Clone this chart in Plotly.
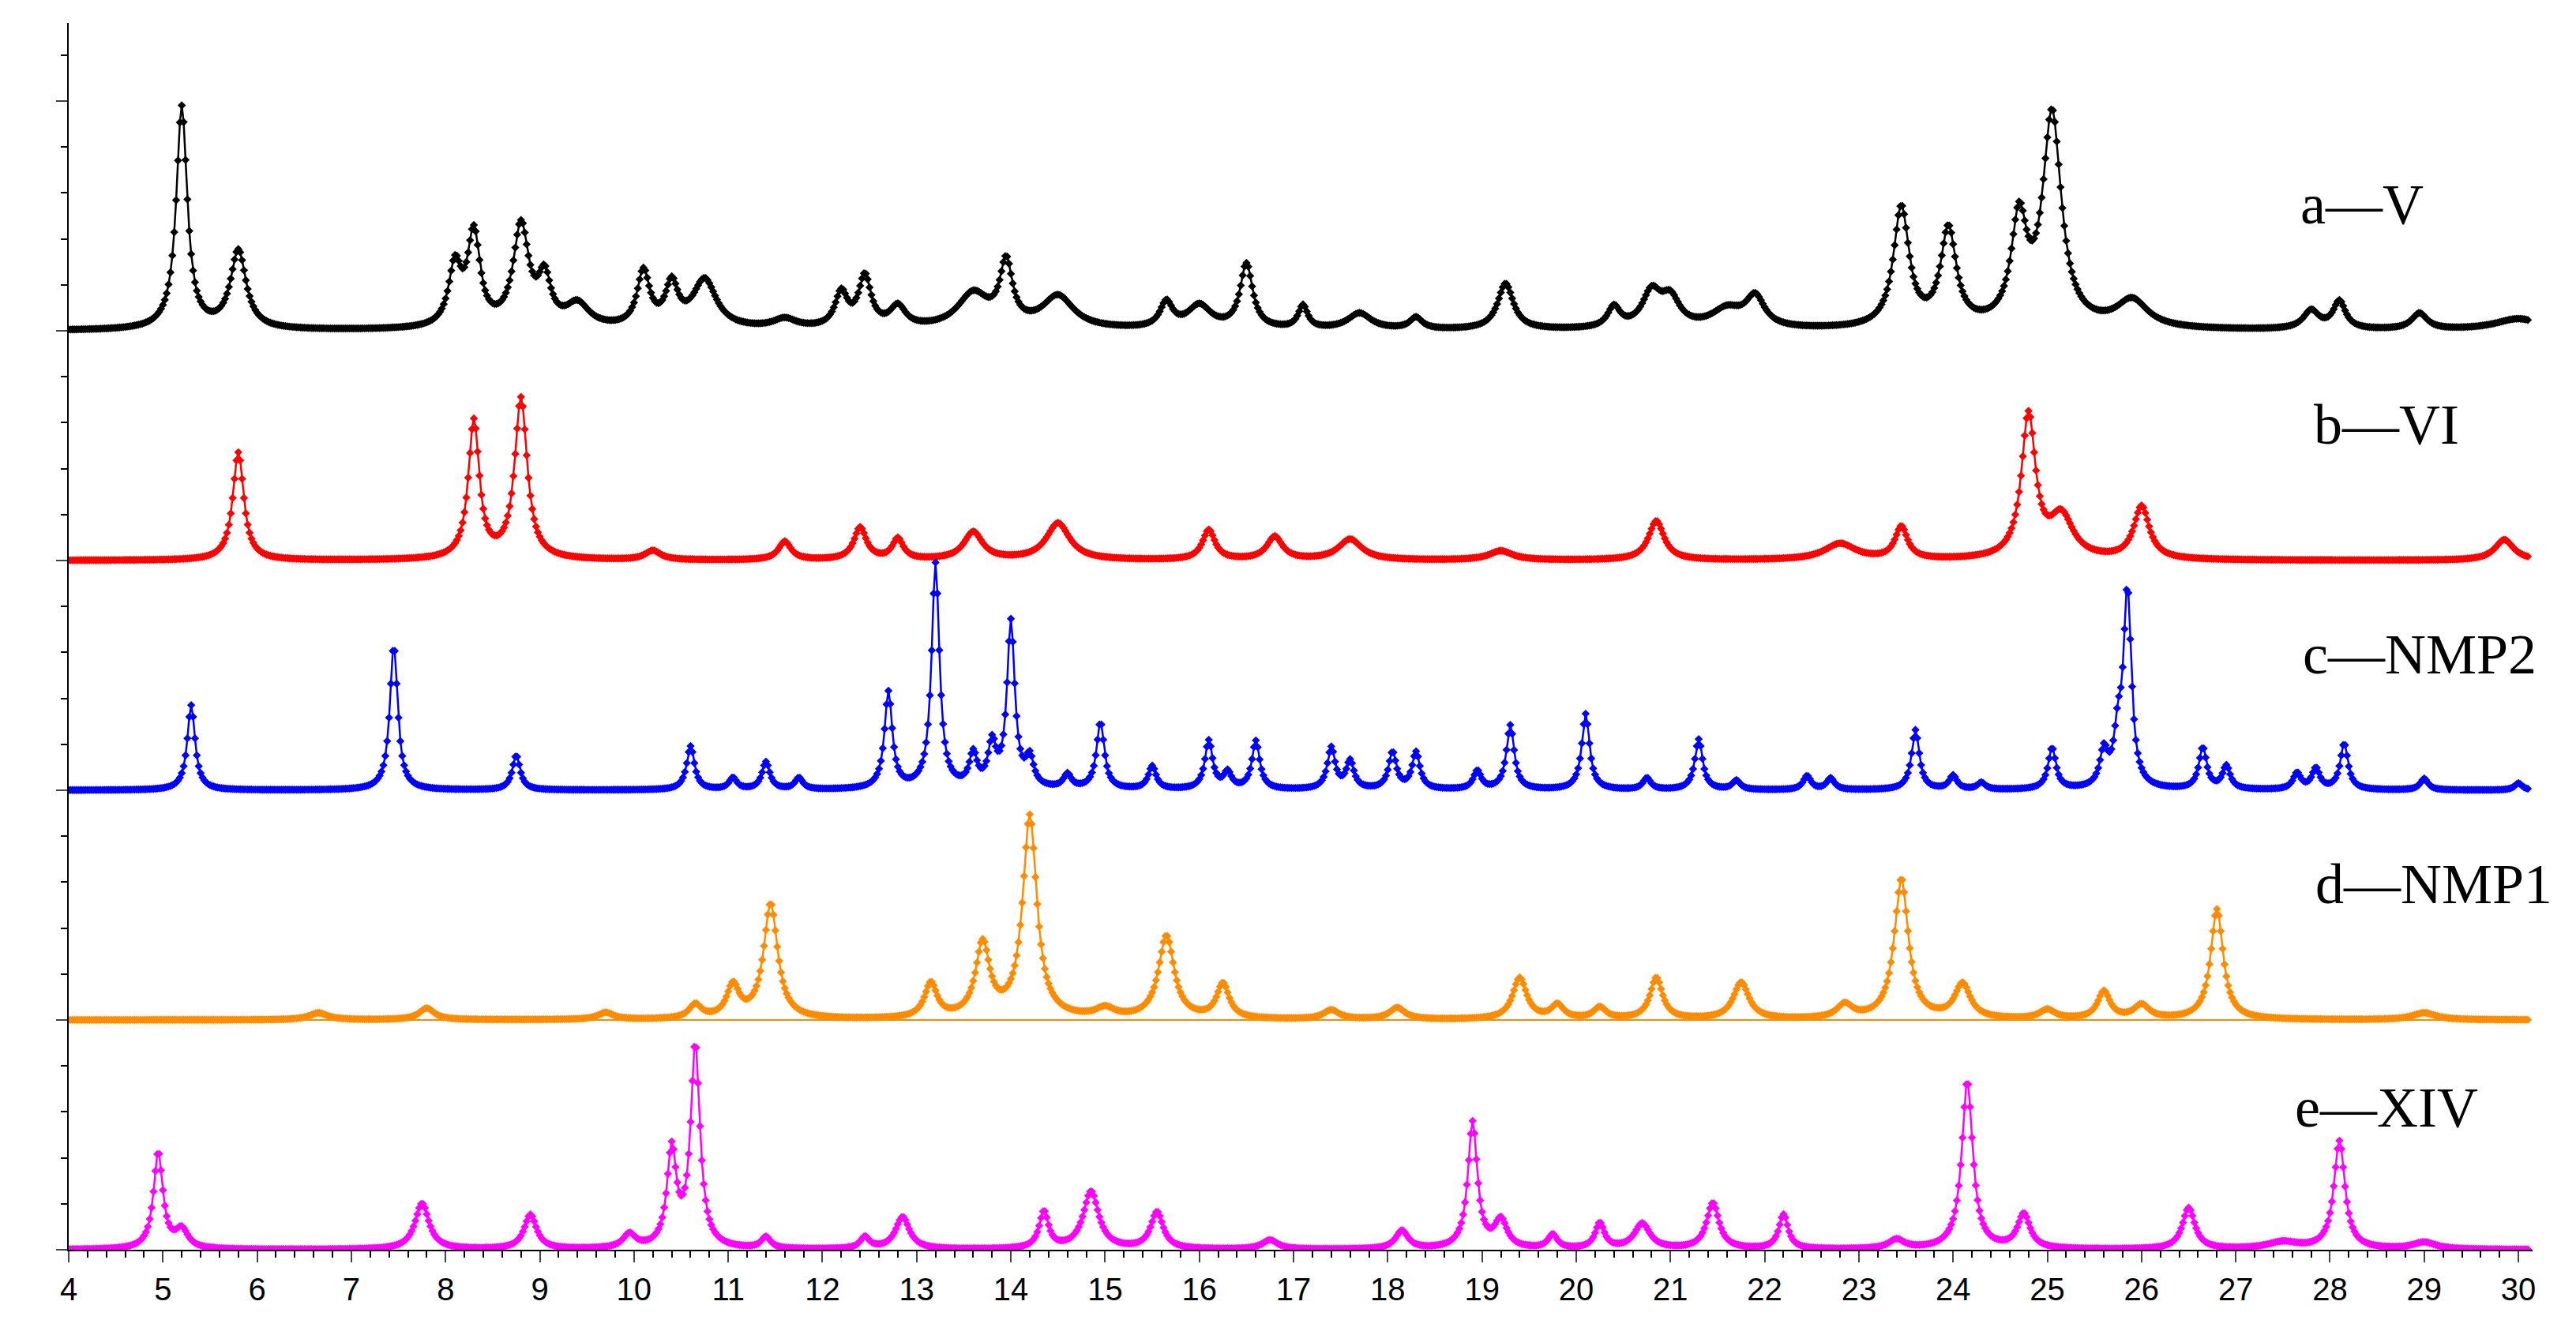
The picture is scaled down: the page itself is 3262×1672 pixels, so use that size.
import numpy as np
import plotly.graph_objects as go

# Peak tables: position (2θ), height (offset units), HWHM
a_pos = [5.2,5.8,8.1,8.3,8.8,9.05,9.4,10.1,10.4,10.75,11.6,12.2,12.45,12.8,13.6,13.95,14.5,15.65,16.0,16.5,17.1,17.7,18.3,19.25,20.4,20.8,21.0,21.6,21.9,23.45,23.95,24.7,25.05,25.9,27.8,28.1,28.95,30.0]
a_h   = [0.97,0.34,0.26,0.40,0.44,0.20,0.10,0.24,0.18,0.21,0.04,0.15,0.22,0.09,0.15,0.27,0.14,0.11,0.10,0.28,0.10,0.07,0.05,0.20,0.09,0.15,0.12,0.08,0.13,0.52,0.42,0.45,0.92,0.12,0.08,0.12,0.07,0.05]
a_w   = [0.07,0.1,0.08,0.08,0.1,0.08,0.15,0.08,0.08,0.15,0.15,0.08,0.08,0.1,0.2,0.08,0.2,0.08,0.15,0.08,0.06,0.15,0.08,0.1,0.08,0.12,0.12,0.2,0.12,0.1,0.1,0.1,0.12,0.2,0.1,0.08,0.1,0.3]
b_pos = [5.8,8.3,8.8,10.2,11.6,12.4,12.8,13.6,14.5,16.1,16.8,17.6,19.2,20.85,22.8,23.45,24.8,25.15,26.0,29.85]
b_h   = [0.47,0.60,0.70,0.04,0.08,0.14,0.09,0.12,0.16,0.13,0.10,0.09,0.04,0.17,0.07,0.14,0.62,0.18,0.23,0.09]
b_w   = [0.07,0.07,0.08,0.1,0.08,0.08,0.07,0.12,0.15,0.08,0.1,0.15,0.15,0.1,0.2,0.08,0.09,0.15,0.1,0.12]
c_pos = [5.3,7.45,8.75,10.6,11.05,11.4,11.75,12.7,13.2,13.6,13.8,14.0,14.2,14.6,14.95,15.5,16.1,16.3,16.6,17.4,17.6,18.05,18.3,18.95,19.3,20.1,20.75,21.3,21.7,22.45,22.7,23.6,24.0,24.3,25.05,25.6,25.75,25.85,26.65,26.9,27.65,27.85,28.15,29.0,30.0]
c_h   = [0.37,0.63,0.15,0.19,0.05,0.12,0.05,0.42,0.98,0.14,0.18,0.72,0.12,0.06,0.29,0.10,0.21,0.07,0.21,0.18,0.12,0.16,0.16,0.08,0.28,0.33,0.05,0.22,0.04,0.06,0.05,0.26,0.06,0.03,0.18,0.15,0.2,0.85,0.18,0.1,0.07,0.09,0.2,0.05,0.03]
c_w   = [0.05]*len(c_pos)
d_pos = [6.65,7.8,9.7,10.65,11.05,11.45,13.15,13.7,14.2,15.0,15.65,16.25,17.4,18.1,19.4,19.8,20.25,20.85,21.75,22.85,23.45,24.1,25.0,25.6,26.0,26.8,29.0]
d_h   = [0.03,0.05,0.03,0.06,0.14,0.50,0.15,0.32,0.88,0.04,0.36,0.15,0.04,0.05,0.18,0.06,0.05,0.18,0.16,0.06,0.61,0.15,0.04,0.12,0.06,0.48,0.03]
d_w   = [0.12,0.1,0.1,0.08,0.08,0.09,0.08,0.09,0.09,0.12,0.1,0.08,0.1,0.1,0.09,0.08,0.08,0.08,0.1,0.1,0.09,0.1,0.1,0.08,0.1,0.08,0.15]
e_pos = [4.95,5.2,7.75,8.9,9.95,10.4,10.65,11.4,12.45,12.85,14.35,14.85,15.55,16.75,18.15,18.9,19.2,19.75,20.25,20.7,21.45,22.2,23.4,24.15,24.75,26.5,27.5,28.1,29.0]
e_h   = [0.42,0.08,0.20,0.15,0.06,0.42,0.88,0.05,0.05,0.14,0.16,0.25,0.16,0.04,0.08,0.55,0.12,0.06,0.11,0.11,0.20,0.15,0.04,0.73,0.15,0.18,0.03,0.47,0.03]
e_w   = [0.06,0.08,0.09,0.08,0.08,0.06,0.06,0.06,0.06,0.09,0.06,0.1,0.08,0.1,0.08,0.06,0.08,0.06,0.06,0.1,0.08,0.06,0.1,0.07,0.08,0.08,0.2,0.07,0.15]

labels  = ["a—V", "b—VI", "c—NMP2", "d—NMP1", "e—XIV"]
offsets = [4, 3, 2, 1, 0]
colors  = ["#000000", "#ff0000", "#0000ff", "#ff8c00", "#ff00ff"]
tables  = [(a_pos,a_h,a_w),(b_pos,b_h,b_w),(c_pos,c_h,c_w),(d_pos,d_h,d_w),(e_pos,e_h,e_w)]
label_xy = [(28.34,4.55),(28.6,3.59),(28.95,2.59),(29.1,1.59),(28.6,0.62)]

x = np.arange(4.0, 30.12, 0.02)
fig = go.Figure()
for (p,h,w),off,col in zip(tables,offsets,colors):
    y = np.zeros_like(x)
    for pi,hi,wi in zip(p,h,w):
        y += hi/(1+((x-pi)/wi)**2)
    fig.add_trace(go.Scatter(x=x, y=y+off, mode="lines+markers",
        line=dict(color=col, width=2.5), marker=dict(symbol="diamond", size=8, color=col),
        showlegend=False))
fig.add_trace(go.Scatter(x=[4,30], y=[1,1], mode="lines", line=dict(color=colors[3], width=2), showlegend=False))

for lab,(lx,ly) in zip(labels,label_xy):
    fig.add_annotation(x=lx, y=ly, text=lab, showarrow=False,
        font=dict(family="Liberation Serif", size=72, color="black"))

fig.update_layout(width=3262, height=1672, plot_bgcolor="white", paper_bgcolor="white",
    margin=dict(l=79, r=63, t=21, b=97))
fig.update_xaxes(range=[4,30.15], tickvals=list(range(4,31)), ticks="outside", ticklen=14,
    tickwidth=2, showline=True, linecolor="black", linewidth=2, showgrid=False, zeroline=False,
    tickfont=dict(family="Liberation Sans", size=40, color="black"),
    minor=dict(dtick=0.2, ticks="outside", ticklen=8, tickcolor="black", tickwidth=1.5))
fig.update_yaxes(range=[0,5.34], dtick=1, ticks="outside", ticklen=14, tickwidth=2,
    showticklabels=False, showline=True, linecolor="black", linewidth=2, showgrid=False, zeroline=False,
    minor=dict(dtick=0.2, ticks="outside", ticklen=8, tickcolor="black", tickwidth=1.5))
fig.write_html("out.html")
